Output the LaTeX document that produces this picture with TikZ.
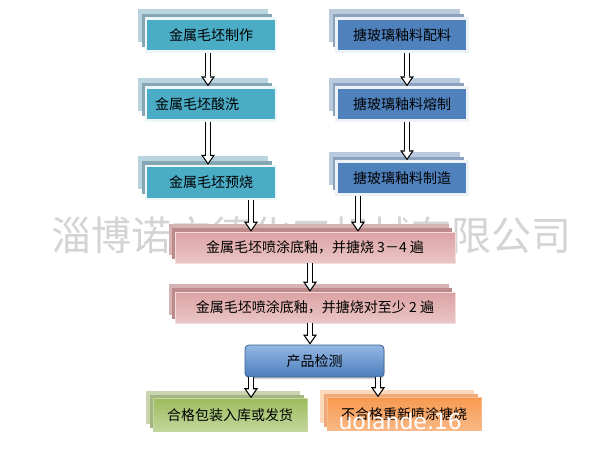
\documentclass[tikz,border=0pt]{standalone}
\usepackage{fontspec}
\setmainfont{Noto Sans CJK SC}
\newfontfamily\urlfont{DejaVu Sans}
\usepackage{xcolor}
\usetikzlibrary{shadows}
\usetikzlibrary{arrows.meta}
\usetikzlibrary{positioning}

\definecolor{aquafront}{HTML}{4BACC6}
\definecolor{aquamid}{HTML}{85A7B4}
\definecolor{aquaback}{HTML}{B8D4DE}
\definecolor{bluefront}{HTML}{4F81BD}
\definecolor{bluemid}{HTML}{8CA1BD}
\definecolor{blueback}{HTML}{BACADD}
\definecolor{pinktop}{HTML}{DCA2A3}
\definecolor{pinkmiddle}{HTML}{F4DCDC}
\definecolor{pinkbottom}{HTML}{EAC6C6}
\definecolor{pinkmid}{HTML}{BC8A8A}
\definecolor{pinkback}{HTML}{D6B3B3}
\definecolor{greentop}{HTML}{9DBC5D}
\definecolor{greenbottom}{HTML}{C3D69D}
\definecolor{greenmid}{HTML}{A4B582}
\definecolor{greenback}{HTML}{C8D5AE}
\definecolor{orangetop}{HTML}{F79A4F}
\definecolor{orangebottom}{HTML}{FAB887}
\definecolor{orangemid}{HTML}{EDAB7D}
\definecolor{orangeback}{HTML}{FCD8BC}
\definecolor{checktop}{HTML}{95B7E3}
\definecolor{checkbottom}{HTML}{4C7EBD}
\definecolor{checkline}{HTML}{3A5F8E}

\begin{document}
\begin{tikzpicture}[x=1pt,y=-1pt]
	%\draw[help lines] (0,0) grid (615,456);
	\path[use as bounding box, fill=white] (0,0) rectangle (615,456);

	\tikzstyle{stack} = [inner sep=0pt, minimum height=33pt, font=\fontsize{14}{16}\selectfont]
	\tikzstyle{lnode} = [stack, minimum width=130pt, fill=aquafront, draw=white!90!aquafront, line width=2.4pt,
		general shadow={shadow xshift=-8pt, shadow yshift=10pt, fill=aquaback, draw=none},
		general shadow={shadow xshift=-4pt, shadow yshift=5pt, fill=aquamid, draw=none}]
	\tikzstyle{rnode} = [stack, minimum width=131pt, fill=bluefront, draw=white!90!bluefront, line width=2.4pt,
		general shadow={shadow xshift=-8pt, shadow yshift=10pt, fill=blueback, draw=none},
		general shadow={shadow xshift=-4pt, shadow yshift=5pt, fill=bluemid, draw=none}]
	\tikzstyle{pnode} = [stack, minimum width=280pt, minimum height=31pt, top color=pinktop, middle color=pinkmiddle, bottom color=pinkbottom, draw=pinkmiddle, line width=0.6pt,
		general shadow={shadow xshift=-6pt, shadow yshift=8pt, fill=pinkback, draw=none},
		general shadow={shadow xshift=-3pt, shadow yshift=4pt, fill=pinkmid, draw=none}]
	\tikzstyle{gnode} = [stack, minimum width=154pt, top color=greentop, bottom color=greenbottom, draw=greenbottom, line width=0.6pt,
		general shadow={shadow xshift=-7pt, shadow yshift=8pt, fill=greenback, draw=none},
		general shadow={shadow xshift=-3pt, shadow yshift=4pt, fill=greenmid, draw=none}]
	\tikzstyle{onode} = [stack, minimum width=154pt, top color=orangetop, bottom color=orangebottom, draw=orangebottom, line width=0.6pt,
		general shadow={shadow xshift=-7pt, shadow yshift=8pt, fill=orangeback, draw=none},
		general shadow={shadow xshift=-3pt, shadow yshift=4pt, fill=orangemid, draw=none}]
	\tikzstyle{cnode} = [stack, minimum width=139pt, minimum height=32pt, rounded corners=4pt, top color=checktop, bottom color=checkbottom, draw=checkline, line width=0.8pt,
		drop shadow={shadow xshift=0.5pt, shadow yshift=-2pt, opacity=0.35}]
	\tikzstyle{flow} = [draw=black, line width=6pt, -{Triangle[length=10pt,width=14pt,line width=0pt]},
		postaction={draw=white, line width=3.6pt, arrows=-, shorten >=8pt},
		postaction={draw=white, line width=3.6pt, shorten >=2.1pt, -{Triangle[length=6.7pt,width=9.4pt,line width=0pt]}}]

	% watermark
	\node[font=\fontsize{40}{44}\selectfont, text=black!17] (mark1) at (311,235) {淄博诺方德化工机械有限公司};

	\node[lnode] (l1) at (211,35) {金属毛坯制作};
	\node[lnode, text width=112pt, align=left] (l2) at (211,104) {金属毛坯酸洗};
	\node[lnode] (l3) at (211,182.5) {金属毛坯预烧};

	\node[rnode] (r1) at (402,35) {搪玻璃釉料配料};
	\node[rnode] (r2) at (402,104) {搪玻璃釉料熔制};
	\node[rnode] (r3) at (402,178) {搪玻璃釉料制造};

	\node[pnode] (p1) at (315,247.5) {金属毛坯喷涂底釉，并搪烧 3－4 遍};
	\node[pnode] (p2) at (315,307.5) {金属毛坯喷涂底釉，并搪烧对至少 2 遍};

	\node[cnode] (chk) at (314.5,361) {产品检测};

	\node[gnode] (ok) at (230,415) {合格包装入库或发货};
	\node[onode] (redo) at (404,414) {不合格重新喷涂搪烧};

	\draw ([xshift=-3pt]l1.south) edge [flow] ([xshift=-3pt]l2.north);
	\draw ([xshift=-3pt]l2.south) edge [flow] ([xshift=-3pt]l3.north);
	\draw ([xshift=5pt]r1.south) edge [flow] ([xshift=5pt]r2.north);
	\draw ([xshift=5pt]r2.south) edge [flow] ([xshift=5pt]r3.north);
	\draw ([xshift=40pt]l3.south) edge [flow] ([xshift=40pt]l3.south |- p1.north);
	\draw ([xshift=-44pt]r3.south) edge [flow] ([xshift=-44pt]r3.south |- p1.north);
	\draw ([xshift=-5pt]p1.south) edge [flow] ([xshift=-5pt]p2.north);
	\draw ([xshift=-5pt]p2.south) edge [flow] ([xshift=-5pt]p2.south |- chk.north);
	\draw ([xshift=-63.5pt]chk.south) edge [flow] ([xshift=-63.5pt]chk.south |- ok.north);
	\draw ([xshift=63.5pt]chk.south) edge [flow] ([xshift=63.5pt]chk.south |- redo.north);

	% watermark
	\node[font=\urlfont\fontsize{22}{24}\selectfont, text=white, anchor=base west] (mark2) at (335,429) {uolande.16};

\end{tikzpicture}
\end{document}
